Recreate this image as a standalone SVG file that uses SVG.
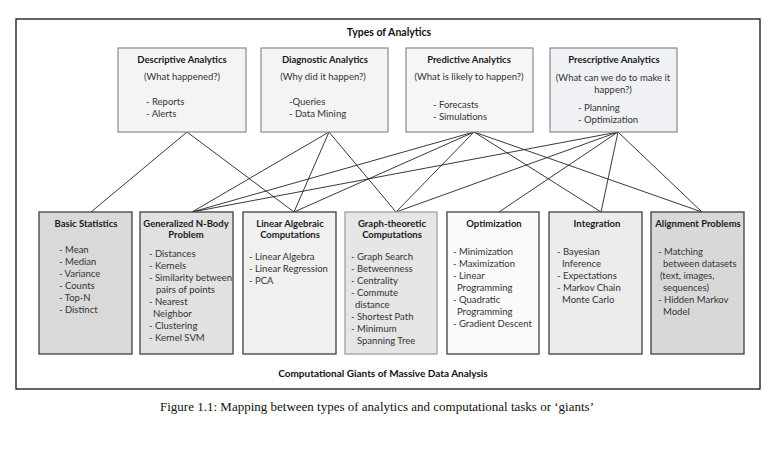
<svg xmlns="http://www.w3.org/2000/svg" width="778" height="452" viewBox="0 0 778 452">
<style>
text{font-family:Lato,"Liberation Sans",sans-serif;font-size:9.5px;fill:#333}
.h{font-weight:bold;fill:#1a1a1a;text-anchor:middle}
.c{text-anchor:middle}
.t{font-weight:bold;fill:#111;font-size:10.5px;text-anchor:middle}
.top{stroke:#8a8a8a;stroke-width:1.2}
.bot{stroke:#3f3f3f;stroke-width:1.3}
.ln{stroke:#222;stroke-width:0.9;fill:none}
.cap{font-family:"Liberation Serif",serif;font-size:13px;fill:#111;text-anchor:middle}
</style>
<rect x="0" y="0" width="778" height="452" fill="#fff"/>
<rect x="16" y="19" width="744" height="370" fill="none" stroke="#111" stroke-width="1.3"/>
<text class="t" x="389" y="36">Types of Analytics</text>
<text class="t" x="383" y="377" style="font-size:10px">Computational Giants of Massive Data Analysis</text>
<text class="cap" x="377" y="411">Figure 1.1: Mapping between types of analytics and computational tasks or ‘giants’</text>

<g id="connectors" class="ln">
<path d="M187 132L91 212M187 132L294 212"/>
<path d="M329 132L192 212M329 132L294 212M329 132L396 212"/>
<path d="M474 132L192 212M474 132L294 212M474 132L396 212M474 132L601 212M474 132L702 212"/>
<path d="M618 132L192 212M618 132L396 212M618 132L499 212M618 132L601 212M618 132L702 212"/>
</g>

<g id="descriptive">
<rect class="top" x="118" y="48" width="128" height="84" fill="#f4f4f4"/>
<text class="h" x="182" y="63">Descriptive Analytics</text>
<text class="c" x="182" y="80">(What happened?)</text>
<text x="146" y="105">- Reports</text>
<text x="146" y="117">- Alerts</text>
</g>
<g id="diagnostic">
<rect class="top" x="261" y="48" width="127" height="84" fill="#f4f4f4"/>
<text class="h" x="325" y="63">Diagnostic Analytics</text>
<text class="c" x="323" y="80">(Why did it happen?)</text>
<text x="289" y="105">-Queries</text>
<text x="289" y="117">- Data Mining</text>
</g>
<g id="predictive">
<rect class="top" x="406" y="48" width="127" height="84" fill="#f6f6f6"/>
<text class="h" x="469" y="63">Predictive Analytics</text>
<text class="c" x="469" y="80">(What is likely to happen?)</text>
<text x="433" y="108">- Forecasts</text>
<text x="433" y="120">- Simulations</text>
</g>
<g id="prescriptive">
<rect class="top" x="550" y="48" width="127" height="84" fill="#eff1f4"/>
<text class="h" x="614" y="63">Prescriptive Analytics</text>
<text class="c" x="613" y="81">(What can we do to make it</text>
<text class="c" x="613" y="93">happen?)</text>
<text x="578" y="111">- Planning</text>
<text x="578" y="123">- Optimization</text>
</g>

<g id="basic">
<rect class="bot" x="39" y="212" width="93" height="142" fill="#d9d9d9"/>
<text class="h" x="86" y="227">Basic Statistics</text>
<text x="59" y="253">- Mean</text>
<text x="59" y="265">- Median</text>
<text x="59" y="277">- Variance</text>
<text x="59" y="289">- Counts</text>
<text x="59" y="301">- Top-N</text>
<text x="59" y="313">- Distinct</text>
</g>
<g id="nbody">
<rect class="bot" x="140" y="212" width="93" height="142" fill="#e1e1e1"/>
<text class="h" x="186" y="227">Generalized  N-Body</text>
<text class="h" x="186" y="238">Problem</text>
<text x="149" y="257">- Distances</text>
<text x="149" y="269">- Kernels</text>
<text x="149" y="281">- Similarity between</text>
<text x="156" y="293">pairs of points</text>
<text x="149" y="305">- Nearest</text>
<text x="153" y="317">Neighbor</text>
<text x="149" y="329">- Clustering</text>
<text x="149" y="341">- Kernel SVM</text>
</g>
<g id="linalg">
<rect class="bot" x="243" y="212" width="93" height="142" fill="#f0f0f0"/>
<text class="h" x="290" y="227">Linear Algebraic</text>
<text class="h" x="290" y="238">Computations</text>
<text x="249" y="260">- Linear Algebra</text>
<text x="249" y="272">- Linear Regression</text>
<text x="249" y="284">- PCA</text>
</g>
<g id="graph">
<rect x="345" y="212" width="92" height="142" fill="#e6e6e6" stroke="#a0a0a0" stroke-width="1.3"/>
<text class="h" x="392" y="227">Graph-theoretic</text>
<text class="h" x="392" y="238">Computations</text>
<text x="351" y="260">- Graph Search</text>
<text x="351" y="272">- Betweenness</text>
<text x="351" y="284">- Centrality</text>
<text x="351" y="296">- Commute</text>
<text x="355" y="308">distance</text>
<text x="351" y="320">- Shortest Path</text>
<text x="351" y="332">- Minimum</text>
<text x="357" y="344">Spanning Tree</text>
</g>
<g id="optimization">
<rect class="bot" x="447" y="212" width="92" height="142" fill="#fafafa"/>
<text class="h" x="494" y="227">Optimization</text>
<text x="453" y="255">- Minimization</text>
<text x="453" y="267">- Maximization</text>
<text x="453" y="279">- Linear</text>
<text x="457" y="291">Programming</text>
<text x="453" y="303">- Quadratic</text>
<text x="457" y="315">Programming</text>
<text x="453" y="327">- Gradient Descent</text>
</g>
<g id="integration">
<rect class="bot" x="549" y="212" width="93" height="142" fill="#ececec"/>
<text class="h" x="597" y="227">Integration</text>
<text x="557" y="255">- Bayesian</text>
<text x="562" y="267">Inference</text>
<text x="557" y="279">- Expectations</text>
<text x="557" y="291">- Markov Chain</text>
<text x="562" y="303">Monte Carlo</text>
</g>
<g id="alignment">
<rect class="bot" x="651" y="212" width="93" height="142" fill="#d8d8d8"/>
<text class="h" x="698" y="227">Alignment Problems</text>
<text x="658" y="255">- Matching</text>
<text x="663" y="267">between datasets</text>
<text x="660" y="279">(text, images,</text>
<text x="663" y="291">sequences)</text>
<text x="658" y="303">- Hidden Markov</text>
<text x="663" y="315">Model</text>
</g>
</svg>
